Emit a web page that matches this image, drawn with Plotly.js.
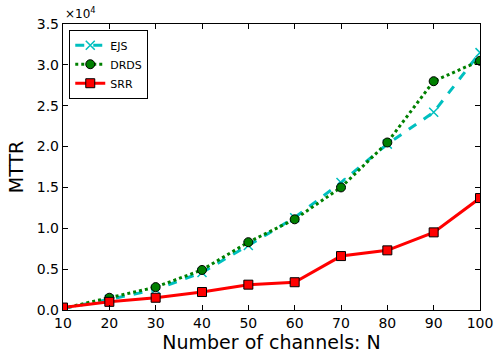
<!DOCTYPE html>
<html><head><meta charset="utf-8">
<script src="https://cdn.plot.ly/plotly-3.0.1.min.js"></script>
<style>html,body{margin:0;padding:0;background:#fff}#c{width:495px;height:360px}</style>
</head><body><div id="c"></div>
<script>
var channels = [10,20,30,40,50,60,70,80,90,100];
var ejs  = [200,1300,2500,4600,7900,11300,15600,20300,24200,31500];
var drds = [200,1500,2800,4900,8300,11100,15000,20500,28000,30500];
var srr  = [300,1000,1500,2200,3100,3400,6600,7300,9500,13700];
var yTickVals = [0,5000,10000,15000,20000,25000,30000,35000];
var yTickText = ['0.0','0.5','1.0','1.5','2.0','2.5','3.0','3.5'];
var xTickVals = [10,20,30,40,50,60,70,80,90,100];

var traces = [
 {x:channels,y:ejs,name:'EJS',mode:'lines+markers',
  line:{color:'#00BFBF',width:3,dash:'dash'},
  marker:{symbol:'x-thin',size:9,line:{color:'#00BFBF',width:1.5},color:'#00BFBF'}},
 {x:channels,y:drds,name:'DRDS',mode:'lines+markers',
  line:{color:'#008000',width:3,dash:'dot'},
  marker:{symbol:'circle',size:9,color:'#008000',line:{color:'#000',width:1}}},
 {x:channels,y:srr,name:'SRR',mode:'lines+markers',
  line:{color:'#FF0000',width:3},
  marker:{symbol:'square',size:9,color:'#FF0000',line:{color:'#000',width:1}}}
];
var layout = {
 width:495,height:360,margin:{l:63,r:15,t:24,b:50},
 paper_bgcolor:'#fff',plot_bgcolor:'#fff',
 font:{family:'DejaVu Sans',size:14,color:'#000'},
 xaxis:{range:[10,100],tickvals:xTickVals,ticks:'inside',ticklen:5,tickcolor:'#000',
   showgrid:false,zeroline:false,showline:true,linecolor:'#000',linewidth:1.2,mirror:'ticks',
   tickfont:{family:'DejaVu Sans',size:14},
   title:{text:'Number of channels: N',font:{family:'DejaVu Sans',size:19},standoff:2}},
 yaxis:{range:[0,35000],tickvals:yTickVals,ticktext:yTickText,ticks:'inside',ticklen:5,tickcolor:'#000',
   showgrid:false,zeroline:false,showline:true,linecolor:'#000',linewidth:1.2,mirror:'ticks',
   tickfont:{family:'DejaVu Sans',size:14},
   title:{text:'MTTR',font:{family:'DejaVu Sans',size:19},standoff:8}},
 showlegend:true,
 legend:{x:0.015,y:0.98,xanchor:'left',yanchor:'top',bgcolor:'#fff',bordercolor:'#000',borderwidth:1,
   font:{family:'DejaVu Sans',size:11},tracegroupgap:0},
 annotations:[{xref:'paper',yref:'paper',x:0,y:1,xanchor:'left',yanchor:'bottom',yshift:1,showarrow:false,
   text:'×10<sup>4</sup>',font:{family:'DejaVu Sans',size:12}}]
};
Plotly.newPlot('c',traces,layout,{displayModeBar:false,staticPlot:true});
</script></body></html>
